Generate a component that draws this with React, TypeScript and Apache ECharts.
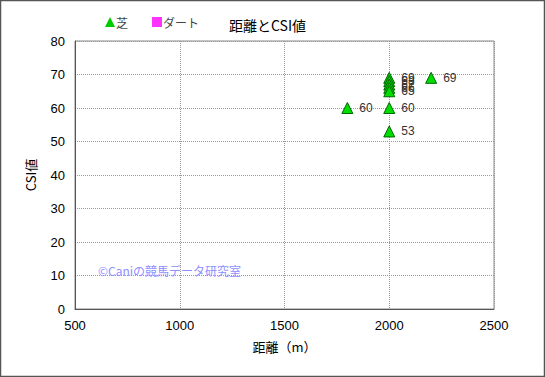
import React, { useEffect, useRef } from "react";
import * as echarts from "echarts";

const turfDistances = [2000, 2000, 2000, 2000, 2000, 1800, 2000, 2000, 2200];
const turfCsi = [69, 68, 67, 66, 65, 60, 60, 53, 69];
const dirtDistances: number[] = [];
const dirtCsi: number[] = [];
const xTicks = [500, 1000, 1500, 2000, 2500];
const yTicks = [0, 10, 20, 30, 40, 50, 60, 70, 80];

export default function App() {
  const ref = useRef<HTMLDivElement>(null);
  useEffect(() => {
    document.body.style.margin = "0";
    const chart = echarts.init(ref.current!, null, { renderer: "svg" });
    const font = "'Noto Sans CJK JP', sans-serif";
    const numFont = "Arial, 'Liberation Sans', sans-serif";
    chart.setOption({
      animation: false,
      backgroundColor: "#fff",
      textStyle: { fontFamily: font },
      title: {
        text: "距離とCSI値",
        left: 224,
        top: 13,
        textStyle: { fontSize: 14, fontWeight: "normal", color: "#000", fontFamily: font },
      },
      legend: {
        left: 100,
        top: 11,
        itemGap: 24,
        itemWidth: 10,
        itemHeight: 10,
        textStyle: { fontSize: 12, color: "#444", fontFamily: font, padding: [0, 0, 0, -4] },
        data: [
          { name: "芝", icon: "triangle", itemStyle: { color: "#00cc00", borderWidth: 0 } },
          { name: "ダート", icon: "rect", itemStyle: { color: "#ff00ff", borderWidth: 0 } },
        ],
      },
      grid: { left: 75, right: 51, top: 41, bottom: 68 },
      xAxis: {
        type: "value",
        min: xTicks[0],
        max: xTicks[xTicks.length - 1],
        interval: 500,
        name: "距離（m）",
        nameLocation: "middle",
        nameGap: 31,
        nameTextStyle: { fontSize: 13, color: "#000", fontFamily: font },
        axisLine: { lineStyle: { color: "#555" } },
        axisTick: { show: false },
        axisLabel: { fontSize: 13, color: "#000", margin: 10, fontFamily: numFont, formatter: (v: number) => String(v) },
        splitLine: { show: true, lineStyle: { color: "#999", type: "dotted" } },
      },
      yAxis: {
        type: "value",
        min: yTicks[0],
        max: yTicks[yTicks.length - 1],
        interval: 10,
        name: "CSI値",
        nameLocation: "middle",
        nameGap: 38,
        nameTextStyle: { fontSize: 13, color: "#000", fontFamily: font },
        axisLine: { show: true, lineStyle: { color: "#555" } },
        axisTick: { show: false },
        axisLabel: { fontSize: 13, color: "#000", margin: 10, fontFamily: numFont, formatter: (v: number) => String(v) },
        splitLine: { show: true, lineStyle: { color: "#999", type: "dotted" } },
      },
      graphic: [
        {
          type: "rect",
          shape: { x: 0.5, y: 0.5, width: 544, height: 376 },
          style: { fill: "none", stroke: "#555", lineWidth: 1.5 },
          silent: true,
        },
        {
          type: "rect",
          shape: { x: 75, y: 41, width: 419, height: 268 },
          style: { fill: "none", stroke: "#888", lineWidth: 1 },
          silent: true,
        },
        {
          type: "text",
          left: 98,
          top: 264,
          style: {
            text: "©Caniの競馬データ研究室",
            fill: "#8f8fff",
            fontSize: 12,
            fontFamily: font,
          },
          silent: true,
        },
      ],
      series: [
        {
          name: "芝",
          type: "scatter",
          symbol: "triangle",
          symbolSize: 11,
          itemStyle: { color: "#00dd00", borderColor: "#006600", borderWidth: 1, opacity: 1 },
          label: {
            show: true,
            position: "right",
            distance: 6,
            fontSize: 12,
            color: "#333",
            fontFamily: numFont,
            formatter: (p: any) => String(p.value[1]),
          },
          data: turfDistances.map((d, i) => [d, turfCsi[i]]),
        },
        {
          name: "ダート",
          type: "scatter",
          symbol: "rect",
          symbolSize: 8,
          itemStyle: { color: "#ff00ff" },
          data: dirtDistances.map((d, i) => [d, dirtCsi[i]]),
        },
      ],
    });
    return () => chart.dispose();
  }, []);
  return <div ref={ref} style={{ position: "absolute", left: 0, top: 0, width: 545, height: 377 }} />;
}
